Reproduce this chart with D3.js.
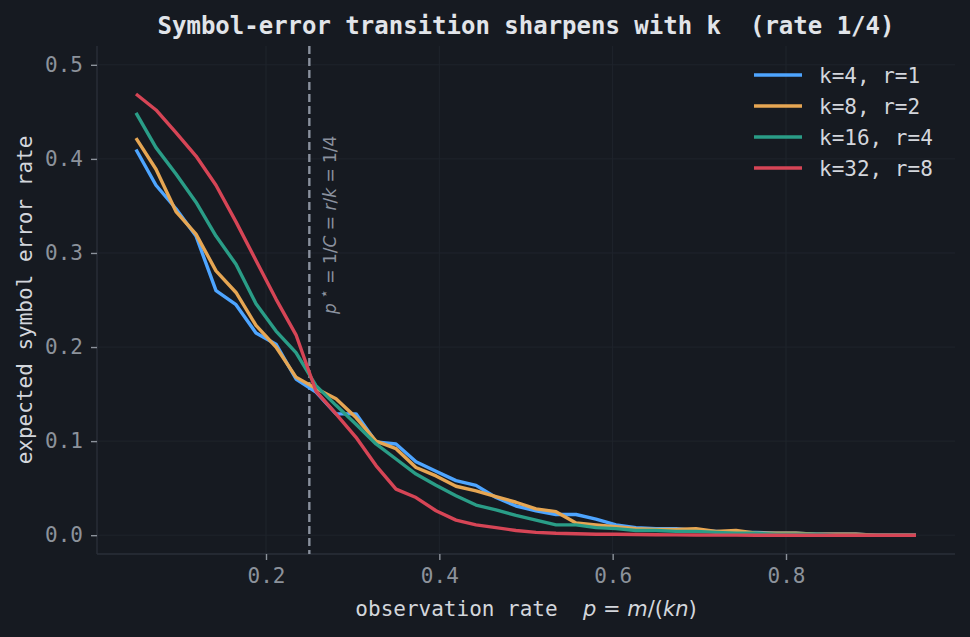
<!DOCTYPE html>
<html>
<head>
<meta charset="utf-8">
<title>Symbol-error transition</title>
<script src="https://d3js.org/d3.v7.min.js"></script>
<style>
    body { margin: 0; background: #161a21; overflow: hidden; }
    svg { display: block; }
    text { white-space: pre; }
    .tick text { font-family: "DejaVu Sans Mono", monospace; font-size: 21px; fill: #8c929b; }
    .tick line { stroke: #8c929b; stroke-width: 1.4; }
    .domain { display: none; }
</style>
</head>
<body>
<svg width="970" height="637"></svg>
<script>
// observation rate p: 40 points between 0.05 and 0.95
const pStart = 0.05, pEnd = 0.95, nPts = 40;
const xs = d3.range(nPts).map(i => pStart + i * (pEnd - pStart) / (nPts - 1));

const seriesLabels = ["k=4, r=1", "k=8, r=2", "k=16, r=4", "k=32, r=8"];
const seriesColors = ["#4ea5ff", "#e6a653", "#2a9d87", "#d64556"];

const k4 = [0.410, 0.372, 0.347, 0.318, 0.260, 0.245, 0.215, 0.203, 0.166, 0.152,
            0.129, 0.129, 0.099, 0.097, 0.078, 0.068, 0.058, 0.053, 0.040, 0.031,
            0.026, 0.022, 0.022, 0.017, 0.011, 0.008, 0.007, 0.007, 0.005, 0.004,
            0.003, 0.003, 0.002, 0.002, 0.001, 0.001, 0.001, 0.000, 0.000, 0.000];
const k8 = [0.422, 0.389, 0.344, 0.320, 0.281, 0.258, 0.223, 0.200, 0.168, 0.156,
            0.145, 0.125, 0.100, 0.092, 0.072, 0.063, 0.052, 0.047, 0.041, 0.035,
            0.028, 0.025, 0.013, 0.011, 0.009, 0.007, 0.006, 0.006, 0.007, 0.004,
            0.005, 0.002, 0.002, 0.002, 0.001, 0.001, 0.001, 0.000, 0.000, 0.000];
const k16 = [0.449, 0.412, 0.384, 0.354, 0.318, 0.288, 0.246, 0.217, 0.194, 0.159,
             0.138, 0.118, 0.097, 0.081, 0.065, 0.053, 0.042, 0.032, 0.027, 0.021,
             0.016, 0.011, 0.011, 0.008, 0.007, 0.005, 0.005, 0.004, 0.004, 0.003,
             0.002, 0.002, 0.001, 0.001, 0.001, 0.000, 0.000, 0.000, 0.000, 0.000];
const k32 = [0.469, 0.452, 0.428, 0.403, 0.372, 0.333, 0.292, 0.251, 0.213, 0.153,
             0.129, 0.104, 0.074, 0.049, 0.040, 0.026, 0.016, 0.011, 0.008, 0.005,
             0.003, 0.002, 0.0015, 0.001, 0.001, 0.0008, 0.0005, 0.0003, 0.0002, 0.0001,
             0.0001, 0, 0, 0, 0, 0, 0, 0, 0, 0];
const seriesValues = [k4, k8, k16, k32];

const xTicks = [0.2, 0.4, 0.6, 0.8];
const yTicks = [0.0, 0.1, 0.2, 0.3, 0.4, 0.5];
const pStar = 0.25;

const svg = d3.select("svg");
const W = 970, H = 637;
const m = { left: 97, right: 15, top: 46, bottom: 83 };

svg.append("rect").attr("width", W).attr("height", H).attr("fill", "#161a21");

const x = d3.scaleLinear().domain([0.005, 0.995]).range([m.left, W - m.right]);
const y = d3.scaleLinear().domain([-0.02, 0.52]).range([H - m.bottom, m.top]);

// grid
const grid = svg.append("g");
grid.selectAll(".gx").data(xTicks).enter().append("line")
    .attr("x1", d => x(d)).attr("x2", d => x(d))
    .attr("y1", m.top).attr("y2", H - m.bottom)
    .attr("stroke", "#1f242c").attr("stroke-width", 1);
grid.selectAll(".gy").data(yTicks).enter().append("line")
    .attr("x1", m.left).attr("x2", W - m.right)
    .attr("y1", d => y(d)).attr("y2", d => y(d))
    .attr("stroke", "#1f242c").attr("stroke-width", 1);

// spines
svg.append("line").attr("x1", m.left).attr("x2", m.left)
    .attr("y1", m.top).attr("y2", H - m.bottom)
    .attr("stroke", "#2a2f38").attr("stroke-width", 1.4);
svg.append("line").attr("x1", m.left).attr("x2", W - m.right)
    .attr("y1", H - m.bottom).attr("y2", H - m.bottom)
    .attr("stroke", "#2a2f38").attr("stroke-width", 1.4);

// axes
svg.append("g")
    .attr("transform", `translate(0,${H - m.bottom})`)
    .call(d3.axisBottom(x).tickValues(xTicks).tickFormat(d3.format(".1f")).tickSize(6).tickPadding(8));
svg.append("g")
    .attr("transform", `translate(${m.left},0)`)
    .call(d3.axisLeft(y).tickValues(yTicks).tickFormat(d3.format(".1f")).tickSize(6).tickPadding(8));

// threshold line
svg.append("line")
    .attr("x1", x(pStar)).attr("x2", x(pStar))
    .attr("y1", m.top).attr("y2", H - m.bottom)
    .attr("stroke", "#8a919e").attr("stroke-width", 2.4)
    .attr("stroke-dasharray", "8,4");

// annotation
const ann = svg.append("text")
    .attr("transform", `translate(${x(pStar) + 27},${y(0.235)}) rotate(-90)`)
    .attr("font-family", "DejaVu Sans, sans-serif")
    .attr("font-size", 17)
    .attr("fill", "#8a919e");
ann.append("tspan").attr("font-style", "italic").text("p");
ann.append("tspan").attr("font-size", 15).attr("dy", -7).text(" \u22c6");
ann.append("tspan").attr("dy", 7).text(" = 1/");
ann.append("tspan").attr("font-style", "italic").text("C");
ann.append("tspan").text(" = ");
ann.append("tspan").attr("font-style", "italic").text("r");
ann.append("tspan").text("/");
ann.append("tspan").attr("font-style", "italic").text("k");
ann.append("tspan").text(" = 1/4");

// curves
const line = d3.line().x((d, i) => x(xs[i])).y(d => y(d));
svg.append("g").selectAll("path")
    .data(seriesValues)
    .enter().append("path")
    .attr("d", line)
    .attr("fill", "none")
    .attr("stroke", (d, i) => seriesColors[i])
    .attr("stroke-width", 3.4)
    .attr("stroke-linejoin", "round");

// legend
const leg = svg.append("g").attr("transform", "translate(754,75)");
seriesLabels.forEach((lab, i) => {
    const g = leg.append("g").attr("transform", `translate(0,${i * 31})`);
    g.append("line").attr("x1", 0).attr("x2", 48)
        .attr("stroke", seriesColors[i]).attr("stroke-width", 3.4);
    g.append("text").attr("x", 65).attr("y", 8)
        .attr("font-family", "DejaVu Sans Mono, monospace")
        .attr("font-size", 21).attr("fill", "#d3d6dc")
        .text(lab);
});

// title
svg.append("text")
    .attr("x", (m.left + W - m.right) / 2).attr("y", 34)
    .attr("text-anchor", "middle")
    .attr("font-family", "DejaVu Sans Mono, monospace")
    .attr("font-size", 24).attr("font-weight", "bold")
    .attr("fill", "#e1e4e9")
    .text("Symbol-error transition sharpens with k  (rate 1/4)");

// x label
const xl = svg.append("text")
    .attr("x", (m.left + W - m.right) / 2).attr("y", 616)
    .attr("text-anchor", "middle")
    .attr("font-family", "DejaVu Sans Mono, monospace")
    .attr("font-size", 21).attr("fill", "#d3d6dc");
xl.append("tspan").text("observation rate  ");
const mathFont = "DejaVu Sans, sans-serif";
xl.append("tspan").attr("font-family", mathFont).attr("font-style", "italic").text("p");
xl.append("tspan").attr("font-family", mathFont).text(" = ");
xl.append("tspan").attr("font-family", mathFont).attr("font-style", "italic").text("m");
xl.append("tspan").attr("font-family", mathFont).text("/(");
xl.append("tspan").attr("font-family", mathFont).attr("font-style", "italic").text("kn");
xl.append("tspan").attr("font-family", mathFont).text(")");

// y label
svg.append("text")
    .attr("transform", `translate(32,${(m.top + H - m.bottom) / 2}) rotate(-90)`)
    .attr("text-anchor", "middle")
    .attr("font-family", "DejaVu Sans Mono, monospace")
    .attr("font-size", 21).attr("fill", "#d3d6dc")
    .text("expected symbol error rate");
</script>
</body>
</html>
